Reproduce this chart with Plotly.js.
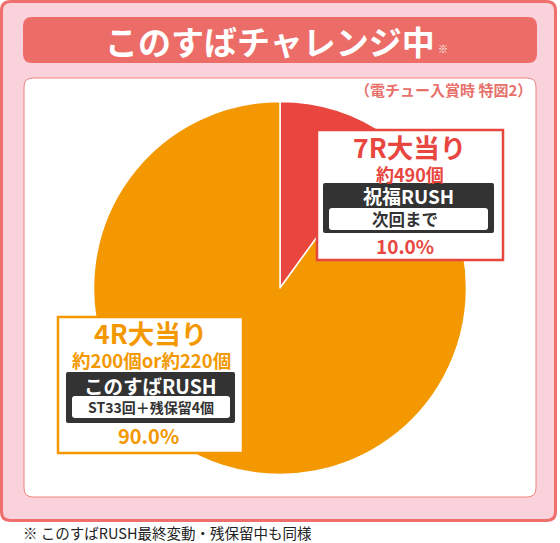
<!DOCTYPE html>
<html>
<head>
<meta charset="utf-8">
<script src="https://cdn.plot.ly/plotly-3.0.1.min.js"></script>
<style>html,body{margin:0;padding:0;background:#fff;}#chart{width:560px;height:543px;}</style>
</head>
<body>
<div id="chart"></div>
<script>
// ---- data ----
const categories = ['7R大当り', '4R大当り'];
const values = [10.0, 90.0];
const payouts = ['約490個', '約200個or約220個'];
const rushNames = ['祝福RUSH', 'このすばRUSH'];
const rushDetails = ['次回まで', 'ST33回＋残保留4個'];
const sliceColors = ['#e8463f', '#f39800'];
const titleText = 'このすばチャレンジ中';
const subtitleText = '（電チュー入賞時 特図2）';
const footnoteText = '※ このすばRUSH最終変動・残保留中も同様';

// ---- layout helpers ----
const W = 560, H = 543;
const X = px => px / W;
const Y = py => 1 - py / H;
function rr(x0, y0, x1, y1, r) {
  if (r <= 0) return `M${X(x0)},${Y(y0)} L${X(x1)},${Y(y0)} L${X(x1)},${Y(y1)} L${X(x0)},${Y(y1)} Z`;
  return `M${X(x0 + r)},${Y(y0)} L${X(x1 - r)},${Y(y0)} Q${X(x1)},${Y(y0)} ${X(x1)},${Y(y0 + r)} ` +
    `L${X(x1)},${Y(y1 - r)} Q${X(x1)},${Y(y1)} ${X(x1 - r)},${Y(y1)} ` +
    `L${X(x0 + r)},${Y(y1)} Q${X(x0)},${Y(y1)} ${X(x0)},${Y(y1 - r)} ` +
    `L${X(x0)},${Y(y0 + r)} Q${X(x0)},${Y(y0)} ${X(x0 + r)},${Y(y0)} Z`;
}
function box(x0, y0, x1, y1, r, fill, line, lw, layer) {
  return {type: 'path', xref: 'paper', yref: 'paper', path: rr(x0, y0, x1, y1, r),
    fillcolor: fill, line: {color: line || fill, width: lw || 0}, layer: layer || 'above'};
}
const FONT = '"Noto Sans CJK JP", "Noto Sans", sans-serif';
function txt(text, px, py, size, color, opts) {
  opts = opts || {};
  return {text: text, x: X(px), y: Y(py), xref: 'paper', yref: 'paper', showarrow: false,
    xanchor: opts.xanchor || 'center', yanchor: 'middle', borderpad: 0,
    font: {family: FONT, size: size, color: color, weight: opts.weight || 'bold'}};
}

const cx = 280, cy = 288, r = 186.5;

const trace = {
  type: 'pie',
  labels: categories,
  values: values,
  sort: false,
  direction: 'clockwise',
  rotation: 0,
  textinfo: 'none',
  hoverinfo: 'skip',
  showlegend: false,
  marker: {colors: sliceColors, line: {color: '#ffffff', width: 1.5}},
  domain: {x: [X(cx - r), X(cx + r)], y: [Y(cy + r), Y(cy - r)]}
};

const pct = values.map(v => v.toFixed(1) + '%');

const shapes = [
  box(1.5, 1.5, 555.5, 520.5, 9, '#fad2dc', '#ee6f6b', 3, 'below'),
  box(23, 17, 537, 63, 9, '#ec6d68', null, 0, 'below'),
  box(24, 78, 536, 497, 9, '#ffffff', '#f0847f', 1, 'below'),
  // red label
  box(317, 130, 503, 260, 0, '#ffffff', sliceColors[0], 2.5),
  box(323, 183, 494, 233, 2, '#333333'),
  box(329, 208, 488, 230, 3, '#ffffff'),
  // orange label
  box(58, 317, 243, 453, 0, '#ffffff', sliceColors[1], 2.5),
  box(66, 372, 235, 423, 2, '#333333'),
  box(72, 396, 230, 418, 3, '#ffffff')
];

const annotations = [
  txt(titleText, 270, 41, 33, '#ffffff'),
  txt('※', 443, 49, 10, '#ffffff'),
  txt(subtitleText, 533, 89, 15, '#e8706b', {xanchor: 'right'}),
  // red label
  txt(categories[0], 409, 146, 26.5, sliceColors[0]),
  txt(payouts[0], 410, 174, 18, sliceColors[0]),
  txt(rushNames[0], 408, 196, 19, '#ffffff'),
  txt(rushDetails[0], 405, 219, 16.5, '#333333'),
  txt(pct[0], 405, 246, 19, sliceColors[0]),
  // orange label
  txt(categories[1], 150, 332, 26.5, sliceColors[1]),
  txt(payouts[1], 151, 359.5, 18.5, sliceColors[1]),
  txt(rushNames[1], 150, 385, 19.5, '#ffffff'),
  txt(rushDetails[1], 151, 407, 14, '#333333'),
  txt(pct[1], 148, 435, 20, sliceColors[1]),
  // footnote
  txt(footnoteText, 22, 532.5, 14.5, '#222222', {xanchor: 'left', weight: 'normal'})
];

const layout = {
  width: W, height: H,
  margin: {l: 0, r: 0, t: 0, b: 0, pad: 0},
  paper_bgcolor: '#ffffff',
  plot_bgcolor: '#ffffff',
  showlegend: false,
  shapes: shapes,
  annotations: annotations
};

Plotly.newPlot('chart', [trace], layout, {displayModeBar: false, staticPlot: true});
</script>
</body>
</html>
